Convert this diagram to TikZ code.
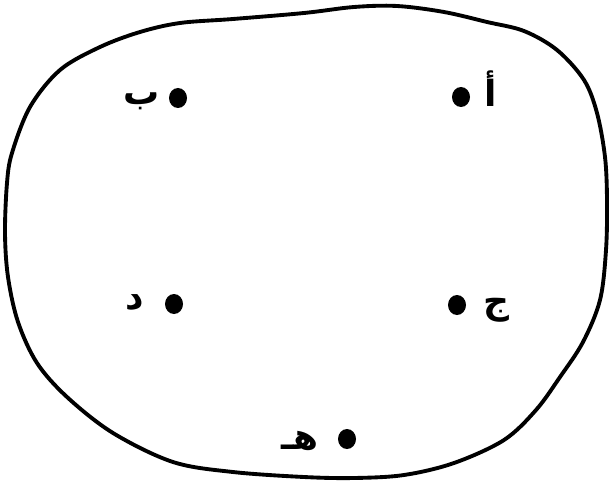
\documentclass[tikz,border=0pt]{standalone}
\usepackage{fontspec}
\newfontfamily\arabicfont[Script=Arabic]{DejaVu Sans}
\TeXXeTstate=1
\usetikzlibrary{shapes.geometric}

\begin{document}
\begin{tikzpicture}[x=0.75pt, y=-0.75pt,
  spot/.style={ellipse, fill=black, inner sep=0pt, minimum width=13.5pt, minimum height=15pt},
  letter/.style={font=\arabicfont\bfseries\fontsize{27}{30}\selectfont, inner sep=0pt}]
  \useasboundingbox (0,0) rectangle (609,481);
  % the closed region
  \draw[line width=2.9pt, line join=round] plot[smooth cycle, tension=0.55] coordinates {
    (304,13) (354,7) (397,6) (444,12) (487,22) (524,31) (557,50) (584,80)
    (597,113) (605,157) (607,200) (606,250) (600,300) (583,342) (560,377)
    (536,410) (504,440) (454,463) (404,475) (354,478) (304,477) (233,472)
    (173,462) (113,433) (67,397) (37,363) (18,322) (8,277) (5,233) (7,183)
    (12,153) (30,107) (60,70) (100,47) (140,32) (180,23) (233,19)};
  % points
  \node[spot] (pa) at (461,97) {};
  \node[spot] (pb) at (178,98) {};
  \node[spot] (pj) at (457,305) {};
  \node[spot] (pd) at (174,304) {};
  \node[spot] (ph) at (347,439) {};
  % names
  \node[letter] (la) at (491,89) {\beginR أ\endR};
  \node[letter] (lb) at (142,101) {\beginR ب\endR};
  \node[letter] (lj) at (496,310) {\beginR ج\endR};
  \node[letter] (ld) at (135,303) {\beginR د\endR};
  \node[letter] (lh) at (300,441) {\beginR هـ\endR};
\end{tikzpicture}
\end{document}
